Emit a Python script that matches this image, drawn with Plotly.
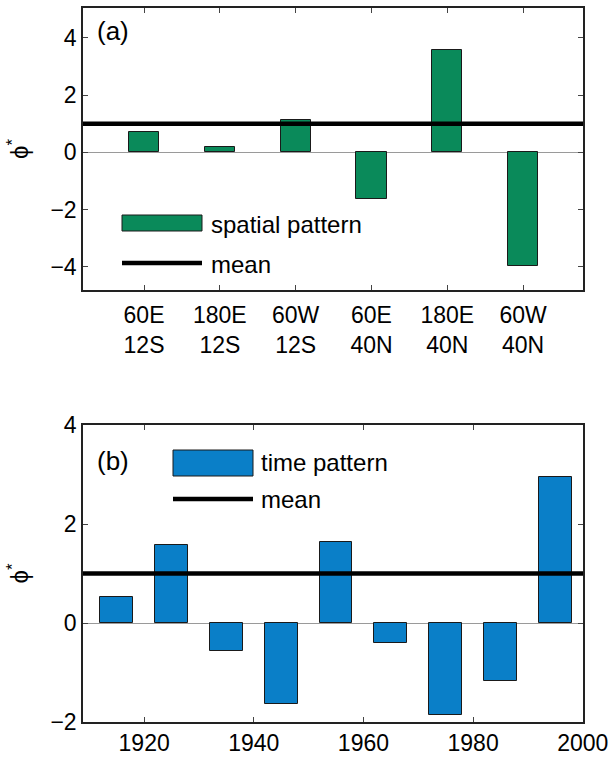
import plotly.graph_objects as go
from plotly.subplots import make_subplots

# ---- data ----
locations = ["60E<br>12S", "180E<br>12S", "60W<br>12S", "60E<br>40N", "180E<br>40N", "60W<br>40N"]
spatial_values = [0.71, 0.19, 1.14, -1.62, 3.57, -3.97]
spatial_mean = 1.0

years = [1915, 1925, 1935, 1945, 1955, 1965, 1975, 1985, 1995]
time_values = [0.53, 1.57, -0.56, -1.64, 1.64, -0.41, -1.86, -1.17, 2.95]
time_mean = 1.0

year_ticks = [1920, 1940, 1960, 1980, 2000]
phi_ticks_a = [-4, -2, 0, 2, 4]
phi_ticks_b = [-2, 0, 2, 4]

GREEN = "#0a8a5a"
BLUE = "#0a7fc8"
FONT = "Liberation Sans"
FS_TICK = 23
FS_TXT = 24

W, H = 613, 761
ML, MT = 83, 8
PW = 500
MR = W - ML - PW
MB = H - 722
PH = H - MT - MB


def px(x):
    return (x - ML) / PW


def py(y):
    return (H - MB - y) / PH


fig = make_subplots(rows=2, cols=1)

fig.add_trace(go.Bar(x=locations, y=spatial_values, width=0.4,
                     marker=dict(color=GREEN, line=dict(color="#1a1a1a", width=1)),
                     showlegend=False), row=1, col=1)
fig.add_trace(go.Bar(x=years, y=time_values, width=6,
                     marker=dict(color=BLUE, line=dict(color="#1a1a1a", width=1)),
                     showlegend=False), row=2, col=1)

fig.add_hline(y=spatial_mean, line=dict(color="black", width=4.5), row=1, col=1)
fig.add_hline(y=time_mean, line=dict(color="black", width=4.5), row=2, col=1)

axis_common = dict(showline=True, linecolor="#222", linewidth=1.5, mirror="ticks",
                   ticks="inside", ticklen=5, tickcolor="#444", showgrid=False,
                   automargin=False,
                   tickfont=dict(family=FONT, size=FS_TICK, color="black"))

ytitle = dict(text="ϕ<sup>*</sup>", font=dict(family=FONT, size=FS_TXT), standoff=15)

fig.update_xaxes(**axis_common, row=1, col=1, range=[-0.805, 5.79], zeroline=False,
                 ticklabelstandoff=4)
fig.update_yaxes(**axis_common, row=1, col=1, range=[-4.81, 5.04], tickvals=phi_ticks_a,
                 zeroline=True, zerolinecolor="#9a9a9a", zerolinewidth=1, title=ytitle)
fig.update_xaxes(**axis_common, row=2, col=1, range=[1908.85, 2000.05], tickvals=year_ticks,
                 zeroline=False)
fig.update_yaxes(**axis_common, row=2, col=1, range=[-2, 4], tickvals=phi_ticks_b,
                 zeroline=True, zerolinecolor="#9a9a9a", zerolinewidth=1, title=ytitle)

fig.update_layout(
    width=W, height=H,
    margin=dict(l=ML, r=MR, t=MT, b=MB, autoexpand=False),
    plot_bgcolor="white", paper_bgcolor="white",
    font=dict(family=FONT, size=FS_TXT, color="black"),
    xaxis=dict(domain=[0, 1]), xaxis2=dict(domain=[0, 1]),
    yaxis=dict(domain=[py(290), 1]), yaxis2=dict(domain=[0, py(425)]),
    bargap=0,
)

# legend-like decorations and panel labels
shapes = [
    dict(type="rect", xref="paper", yref="paper", x0=px(122), x1=px(202), y0=py(231), y1=py(215),
         fillcolor=GREEN, line=dict(color="#1a1a1a", width=1)),
    dict(type="line", xref="paper", yref="paper", x0=px(122), x1=px(202), y0=py(263), y1=py(263),
         line=dict(color="black", width=4.5)),
    dict(type="rect", xref="paper", yref="paper", x0=px(173), x1=px(253), y0=py(476), y1=py(450),
         fillcolor=BLUE, line=dict(color="#1a1a1a", width=1)),
    dict(type="line", xref="paper", yref="paper", x0=px(173), x1=px(253), y0=py(499), y1=py(499),
         line=dict(color="black", width=4.5)),
]
for s in shapes:
    fig.add_shape(**s)

annots = [
    ("spatial pattern", 209, 224, FS_TXT),
    ("mean", 209, 264, FS_TXT),
    ("time pattern", 259, 463, FS_TXT),
    ("mean", 259, 499, FS_TXT),
    ("(a)", 95, 31, 26),
    ("(b)", 95, 461, 26),
]
for text, x, y, fs in annots:
    fig.add_annotation(text=text, xref="paper", yref="paper", x=px(x), y=py(y),
                       xanchor="left", yanchor="middle", showarrow=False,
                       font=dict(family=FONT, size=fs, color="black"))

fig.write_html("out.html", config={"displayModeBar": False},
               post_script="document.body.style.margin='0';document.body.style.overflow='hidden';")
